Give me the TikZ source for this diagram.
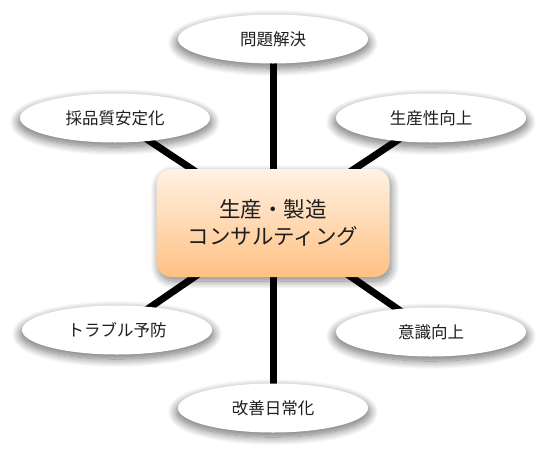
\documentclass[tikz,border=0pt]{standalone}
\usepackage{fontspec}
\setmainfont{Noto Sans CJK JP}
\usetikzlibrary{shapes.geometric,shadows.blur,backgrounds}
\definecolor{boxtop}{RGB}{255,242,228}
\definecolor{boxbot}{RGB}{255,192,130}
\definecolor{txt}{RGB}{30,30,30}
\tikzset{
  leaf/.style={ellipse, fill=white, minimum width=190pt, minimum height=49pt, inner sep=0pt,
    font=\fontsize{16.5}{18}\selectfont, text=txt,
    blur shadow={shadow xshift=0pt, shadow yshift=-4pt, shadow blur steps=14, shadow opacity=55, shadow blur radius=8pt, shadow scale=1.02}},
  hub/.style={rounded corners=15pt, top color=boxtop, bottom color=boxbot, minimum width=233pt, minimum height=108pt,
    inner sep=0pt, align=center, font=\fontsize{21.5}{27}\selectfont, text=txt,
    blur shadow={shadow xshift=2pt, shadow yshift=-4pt, shadow blur steps=14, shadow opacity=50, shadow blur radius=8pt}},
  link/.style={line width=7pt, black}
}
\begin{document}
\begin{tikzpicture}[x=1pt,y=-1pt]
\useasboundingbox (0,0) rectangle (546,464);
\node[hub] (c) at (273,223) {生産・製造\\コンサルティング};
\node[leaf] (n1) at (273,39) {問題解決};
\node[leaf] (n2) at (115,118) {採品質安定化};
\node[leaf] (n3) at (431,118) {生産性向上};
\node[leaf] (n4) at (117,330) {トラブル予防};
\node[leaf] (n5) at (431,332) {意識向上};
\node[leaf] (n6) at (273,408) {改善日常化};
\begin{scope}[on background layer]
\foreach \n in {n1,n2,n3,n4,n5,n6} \draw[link] (c.center) -- (\n.center);
\end{scope}
\end{tikzpicture}
\end{document}
